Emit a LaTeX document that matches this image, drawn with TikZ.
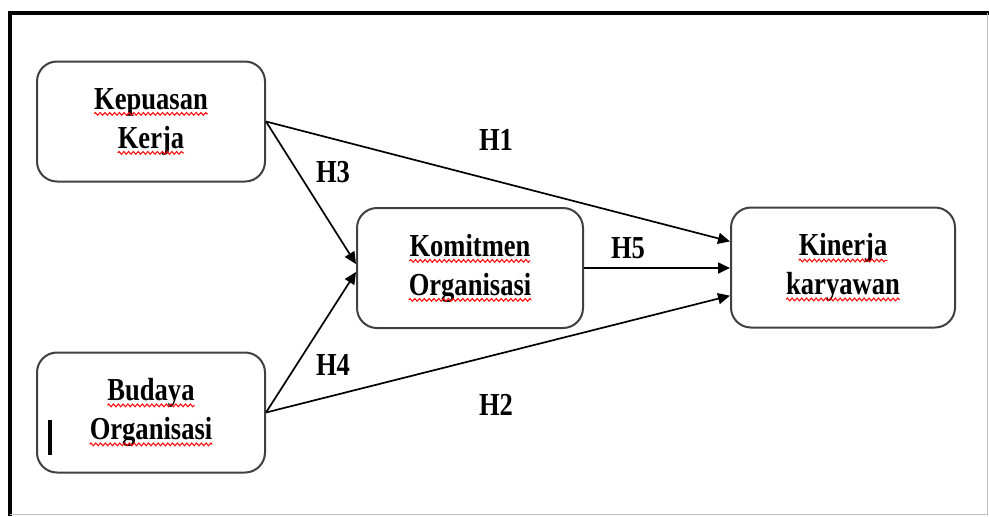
\documentclass[tikz,border=0pt]{standalone}
\usepackage{fontspec}
\setmainfont{Liberation Serif}[FakeStretch=0.83]
\usetikzlibrary{arrows.meta,decorations.pathmorphing}
\newcommand\salah[1]{\tikz[baseline=(w.base)]{%
  \node[draw=none,fill=none,inner sep=0pt,outer sep=0pt,minimum size=0pt,rounded corners=0pt] (w) {#1};
  \draw[red,line width=0.5pt,rounded corners=0pt,decorate,decoration={zigzag,amplitude=0.7pt,segment length=2.4pt}]
    ([yshift=-2.4pt]w.base west) -- ([yshift=-2.4pt]w.base east);}}
\tikzset{
  kotak/.style={draw=black!75, line width=1pt, rounded corners=10pt,
    minimum width=114pt, minimum height=60pt, align=center,
    font=\fontsize{16}{19.5}\selectfont\bfseries},
  panah/.style={-{Triangle[length=6pt,width=5.5pt]}, line width=0.85pt},
  hip/.style={font=\fontsize{16}{18}\selectfont\bfseries}
}
\begin{document}
\begin{tikzpicture}[x=0.5pt,y=-0.5pt]
      \fill[white] (0,0) rectangle (989,516);
      \useasboundingbox (0,0) rectangle (989,516);
      % frame
      \draw[line width=2pt] (10,516) -- (10,13) -- (989,13);
      \draw[black!25, line width=0.5pt] (987,13) -- (987,514) -- (10,514);
      % variables
      \node[kotak] (kep) at (151,121.5) {\salah{Kepuasan}\\\salah{Kerja}};
      \node[kotak] (bud) at (151,412.5) {\salah{Budaya}\\\salah{Organisasi}};
      \node[kotak, minimum width=113pt] (kom) at (470,268) {\salah{Komitmen}\\\salah{Organisasi}};
      \node[kotak, minimum width=112pt] (kin) at (843,267.5) {\salah{Kinerja}\\\salah{karyawan}};
      % hypotheses
      \node[hip] (h1) at (496,140) {H1};
      \node[hip] (h2) at (496,405) {H2};
      \node[hip] (h3) at (333,172) {H3};
      \node[hip] (h4) at (333,365) {H4};
      \node[hip] (h5) at (628,248) {H5};
      \begin{scope}[panah]
        \draw (kep.east) to (kin.167);
        \draw (kep.east) to (kom.178);
        \draw (bud.east) to (kom.182);
        \draw (bud.east) to (kin.194.5);
        \draw (kom.east) to (kom.east -| kin.west);
      \end{scope}
      % cursor
      \draw[line width=2pt] (50,420) -- (50,455);
    \end{tikzpicture}
\end{document}
